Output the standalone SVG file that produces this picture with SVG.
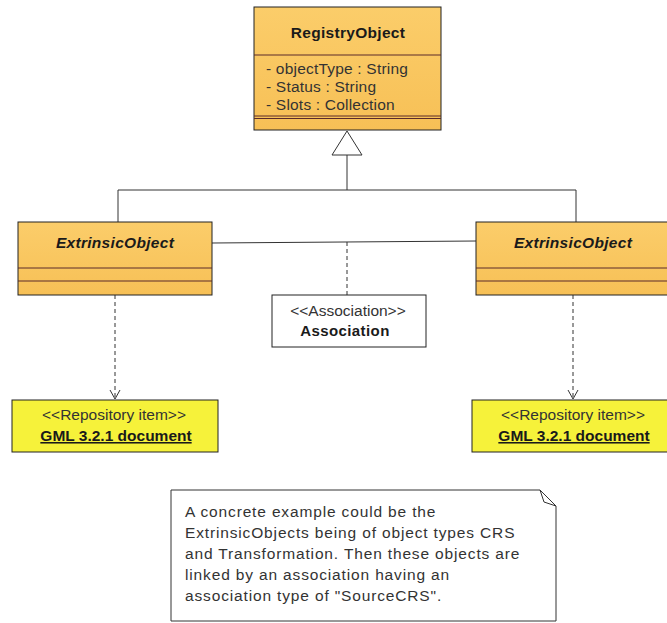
<svg xmlns="http://www.w3.org/2000/svg" width="667" height="623" viewBox="0 0 667 623">
<defs>
<linearGradient id="og" x1="0" y1="0" x2="0" y2="1">
<stop offset="0" stop-color="#FBCD6A"/>
<stop offset="1" stop-color="#F7C056"/>
</linearGradient>
<marker id="open" markerWidth="12" markerHeight="12" refX="10" refY="6" orient="auto" markerUnits="userSpaceOnUse">
<path d="M1,1 L10,6 L1,11" fill="none" stroke="#333" stroke-width="1"/>
</marker>
</defs>
<style>
text{font-family:"Liberation Sans",Arial,sans-serif;fill:#1a1a1a}
.cls{fill:url(#og);stroke:#222;stroke-width:1}
.sep{stroke:#5a2b2b;stroke-width:1}
.title{font-weight:bold;font-size:15.5px;text-anchor:middle;letter-spacing:0.3px}
.it{font-style:italic}
.attr{font-size:15.5px;fill:#333;letter-spacing:0.2px}
.repo{fill:#F6F23A;stroke:#222;stroke-width:1}
.ctr{text-anchor:middle}
.st{font-size:15.5px;fill:#333}
.bu{font-weight:bold;font-size:15.5px;text-decoration:underline}
.line{fill:none;stroke:#333;stroke-width:1}
.dash{fill:none;stroke:#333;stroke-width:1;stroke-dasharray:4,3}
.note{font-size:15.5px;fill:#333;letter-spacing:0.85px}
</style>
<g id="connectors">
<line class="line" x1="347" y1="155" x2="347" y2="190"/>
<polyline class="line" points="118,222 118,190 576,190 576,222"/>
<polygon points="347,131 332,155 362,155" fill="#fff" stroke="#333" stroke-width="1"/>
<line class="line" x1="212" y1="243" x2="476" y2="241"/>
<line class="dash" x1="347" y1="242" x2="347" y2="295"/>
<line class="dash" x1="115" y1="295" x2="115" y2="399" marker-end="url(#open)"/>
<line class="dash" x1="573" y1="295" x2="573" y2="399" marker-end="url(#open)"/>
</g>
<g id="RegistryObject">
<rect class="cls" x="254" y="7" width="187" height="123"/>
<line class="sep" x1="254" y1="55" x2="441" y2="55"/>
<line class="sep" x1="254" y1="116" x2="441" y2="116"/>
<line class="sep" x1="254" y1="118.5" x2="441" y2="118.5"/>
<text class="title" x="348" y="38">RegistryObject</text>
<text class="attr" x="266" y="74">- objectType : String</text>
<text class="attr" x="266" y="92">- Status : String</text>
<text class="attr" x="266" y="110">- Slots : Collection</text>
</g>
<g id="ExtrinsicObject1">
<rect class="cls" x="18" y="222" width="194" height="73"/>
<line class="sep" x1="18" y1="268" x2="212" y2="268"/>
<line class="sep" x1="18" y1="281" x2="212" y2="281"/>
<text class="title it" x="115" y="248">ExtrinsicObject</text>
</g>
<g id="ExtrinsicObject2">
<rect class="cls" x="476" y="222" width="194" height="73"/>
<line class="sep" x1="476" y1="268" x2="667" y2="268"/>
<line class="sep" x1="476" y1="281" x2="667" y2="281"/>
<text class="title it" x="573" y="248">ExtrinsicObject</text>
</g>
<g id="Association">
<rect x="272" y="295" width="154" height="52" fill="#fff" stroke="#222" stroke-width="1"/>
<text class="st ctr" x="348" y="316">&lt;&lt;Association&gt;&gt;</text>
<text class="ctr" x="345" y="336" style="font-weight:bold;font-size:15px;letter-spacing:0.4px">Association</text>
</g>
<g id="Repo1">
<rect class="repo" x="12" y="400" width="206" height="52"/>
<text class="st ctr" x="114" y="420">&lt;&lt;Repository item&gt;&gt;</text>
<text class="bu ctr" x="116" y="441">GML 3.2.1 document</text>
</g>
<g id="Repo2">
<rect class="repo" x="472" y="400" width="200" height="52"/>
<text class="st ctr" x="573" y="420">&lt;&lt;Repository item&gt;&gt;</text>
<text class="bu ctr" x="574" y="441">GML 3.2.1 document</text>
</g>
<g id="Note">
<path d="M171,490 L540,490 L556,506 L556,621 L171,621 Z" fill="#fff" stroke="#333" stroke-width="1"/>
<path d="M540,490 L544,502 L556,506" fill="none" stroke="#333" stroke-width="1"/>
<text class="note" x="185" y="517">A concrete example could be the</text>
<text class="note" x="185" y="538">ExtrinsicObjects being of object types CRS</text>
<text class="note" x="185" y="559">and Transformation. Then these objects are</text>
<text class="note" x="185" y="580">linked by an association having an</text>
<text class="note" x="185" y="601">association type of "SourceCRS".</text>
</g>
</svg>
